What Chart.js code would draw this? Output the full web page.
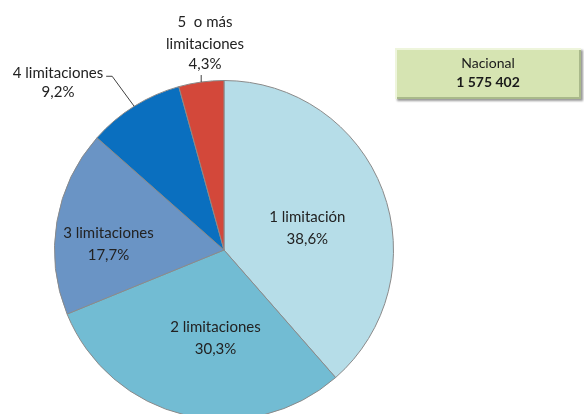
<!DOCTYPE html>
<html>
<head>
<meta charset="utf-8">
<script src="https://cdn.jsdelivr.net/npm/chart.js@4"></script>
<style>
    body { margin: 0; width: 584px; height: 414px; overflow: hidden; background: #fff; font-family: Lato, sans-serif; }
    #wrap { position: absolute; left: 0; top: 0; width: 584px; height: 500px; }
    #total {
        position: absolute; left: 395px; top: 48px; width: 186px; height: 48px;
        background: #d6e4b2;
        box-shadow: inset 2px 2px 0 #eef5dc, inset -2px -2px 0 #a9b98a, 2px 2px 2px #9a9a9a;
        text-align: center; color: #1a1a1a; font-size: 14px; line-height: 19px;
        padding-top: 5px; box-sizing: border-box; height: 51px;
    }
    #total b { font-weight: bold; }
</style>
</head>
<body>
<div id="wrap"><canvas id="pieChart" width="584" height="500"></canvas></div>
<div id="total">Nacional<br><b>1 575 402</b></div>
<script>
const categories = ['1 limitación', '2 limitaciones', '3 limitaciones', '4 limitaciones', '5  o más limitaciones'];
const percentages = [38.6, 30.3, 17.7, 9.2, 4.3];
const sliceColors = ['#b6dde8', '#72bcd3', '#6a94c5', '#0a6fbf', '#d3483a'];

// label text lines for each slice
const labelLines = [
    ['1 limitación'],
    ['2 limitaciones'],
    ['3 limitaciones'],
    ['4 limitaciones'],
    ['5  o más', 'limitaciones']
];

function fmt(v) {
    return v.toFixed(1).replace('.', ',') + '%';
}

const pieLabels = {
    id: 'pieLabels',
    afterDatasetsDraw(chart) {
        const ctx = chart.ctx;
        const arcs = chart.getDatasetMeta(0).data;
        ctx.save();
        ctx.font = '15px Lato, sans-serif';
        ctx.fillStyle = '#222';
        ctx.textAlign = 'center';
        ctx.textBaseline = 'middle';

        // inside labels
        const shift = [[4, 8], [11, 6], [-32, 8]];
        for (let i = 0; i < 3; i++) {
            const p = arcs[i].tooltipPosition();
            const x = p.x + shift[i][0];
            const y = p.y + shift[i][1];
            ctx.fillText(labelLines[i][0], x, y - 11);
            ctx.fillText(fmt(percentages[i]), x, y + 11);
        }

        // outside labels with leader lines
        ctx.strokeStyle = '#404040';
        ctx.lineWidth = 1;
        const a4 = arcs[3];
        const m4 = (a4.startAngle + a4.endAngle) / 2;
        const e4x = a4.x + Math.cos(m4) * a4.outerRadius;
        const e4y = a4.y + Math.sin(m4) * a4.outerRadius;
        ctx.beginPath();
        ctx.moveTo(e4x, e4y);
        ctx.lineTo(e4x - 22, e4y - 30);
        ctx.lineTo(e4x - 28, e4y - 30);
        ctx.stroke();
        ctx.fillText(labelLines[3][0], 58, 73);
        ctx.fillText(fmt(percentages[3]), 58, 92);

        const a5 = arcs[4];
        const m5 = (a5.startAngle + a5.endAngle) / 2;
        const e5x = a5.x + Math.cos(m5) * a5.outerRadius;
        const e5y = a5.y + Math.sin(m5) * a5.outerRadius;
        ctx.beginPath();
        ctx.moveTo(e5x, e5y);
        ctx.lineTo(e5x, e5y - 7);
        ctx.stroke();
        ctx.fillText(labelLines[4][0], 205, 22);
        ctx.fillText(labelLines[4][1], 205, 44);
        ctx.fillText(fmt(percentages[4]), 205, 64);
        ctx.restore();
    }
};

new Chart(document.getElementById('pieChart'), {
    type: 'pie',
    data: {
        labels: categories,
        datasets: [{
            data: percentages,
            backgroundColor: sliceColors,
            borderColor: '#8a8a8a',
            borderWidth: 1
        }]
    },
    options: {
        responsive: false,
        animation: false,
        layout: {
            padding: { left: 54, right: 190, top: 80, bottom: 80 }
        },
        plugins: {
            legend: { display: false },
            tooltip: { enabled: false }
        }
    },
    plugins: [pieLabels]
});
</script>
</body>
</html>
